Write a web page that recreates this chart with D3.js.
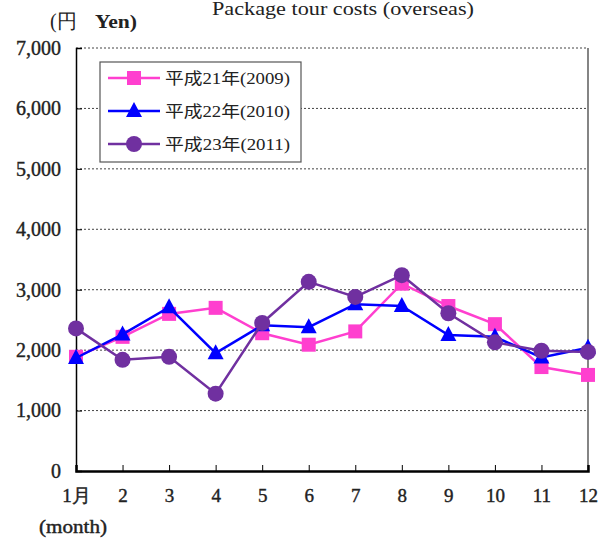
<!DOCTYPE html>
<html><head><meta charset="utf-8">
<script src="https://cdn.jsdelivr.net/npm/d3@7"></script>
<style>body{margin:0;background:#fff}</style>
</head><body>
<svg id="c" width="603" height="538"></svg>
<script>
const months = ["1月","2","3","4","5","6","7","8","9","10","11","12"];
const s2009 = [1890,2220,2600,2700,2280,2090,2310,3100,2730,2430,1720,1590];
const s2010 = [1870,2260,2710,1950,2410,2380,2760,2730,2250,2220,1880,2040];
const s2011 = [2360,1840,1890,1280,2450,3130,2880,3240,2610,2130,1990,1970];
const seriesNames = ["平成21年(2009)","平成22年(2010)","平成23年(2011)"];
const yTicks = [0,1000,2000,3000,4000,5000,6000,7000];

const series = [
  {name:seriesNames[0], values:s2009, color:"#ff3fcf", shape:"square"},
  {name:seriesNames[1], values:s2010, color:"#0000ff", shape:"triangle"},
  {name:seriesNames[2], values:s2011, color:"#7030a0", shape:"circle"}
];

const svg = d3.select("#c");
const L=76, R=588, T=48, B=471;
const x = d3.scalePoint().domain(months).range([L,R]);
const y = d3.scaleLinear().domain([0,7000]).range([B,T]);
const serif = "'Liberation Serif','DejaVu Serif',serif";
const txt = "#222";

// title
svg.append("text").attr("x",343).attr("y",15).attr("text-anchor","middle")
  .attr("font-family",serif).attr("font-size",18).attr("fill",txt)
  .attr("textLength",262).attr("lengthAdjust","spacingAndGlyphs")
  .text("Package tour costs (overseas)");
// unit
svg.append("text").attr("x",50).attr("y",28)
  .attr("font-family",serif).attr("font-size",20).attr("fill",txt)
  .text("(円");
svg.append("text").attr("x",95).attr("y",28)
  .attr("font-family",serif).attr("font-size",19).attr("font-weight","bold").attr("fill",txt)
  .attr("textLength",42).attr("lengthAdjust","spacingAndGlyphs")
  .text("Yen)");

// gridlines
svg.append("g").selectAll("line").data(yTicks.filter(d=>d>0)).join("line")
  .attr("x1",L).attr("x2",R).attr("y1",d=>y(d)).attr("y2",d=>y(d))
  .attr("stroke","#444").attr("stroke-width",1).attr("stroke-dasharray","2,2");

// right border
svg.append("line").attr("x1",R).attr("x2",R).attr("y1",T).attr("y2",B).attr("stroke","#333").attr("stroke-width",1.2);

// y axis
const ya = svg.append("g").attr("transform",`translate(${L},0)`)
  .call(d3.axisLeft(y).tickValues(yTicks).tickSize(-6).tickPadding(15).tickFormat(d3.format(",")));
ya.select(".domain").attr("stroke","#000").attr("stroke-width",1.5);
ya.selectAll(".tick line").attr("stroke","#000");
ya.selectAll("text").attr("font-family",serif).attr("font-size",20).attr("fill",txt)
  .attr("stroke",txt).attr("stroke-width",0.4);

// x axis
const xa = svg.append("g").attr("transform",`translate(0,${B})`)
  .call(d3.axisBottom(x).tickSize(-6).tickPadding(18));
xa.select(".domain").attr("stroke","#000").attr("stroke-width",2.5);
xa.selectAll(".tick line").attr("stroke","#000");
xa.selectAll("text").attr("font-family",serif).attr("font-size",19).attr("fill",txt)
  .attr("stroke",txt).attr("stroke-width",0.4);

svg.append("text").attr("x",39).attr("y",533)
  .attr("font-family",serif).attr("font-size",18).attr("fill",txt)
  .attr("stroke",txt).attr("stroke-width",0.4)
  .attr("textLength",68).attr("lengthAdjust","spacingAndGlyphs")
  .text("(month)");

const line = d3.line().x((d,i)=>x(months[i])).y(d=>y(d));

function marker(g, shape, color, cx, cy){
  if(shape==="square"){
    g.append("rect").attr("x",cx-7).attr("y",cy-7).attr("width",14).attr("height",14).attr("fill",color);
  } else if(shape==="triangle"){
    g.append("path").attr("d",`M${cx},${cy-9}L${cx+8},${cy+6}L${cx-8},${cy+6}Z`).attr("fill",color);
  } else {
    g.append("circle").attr("cx",cx).attr("cy",cy).attr("r",8).attr("fill",color);
  }
}

series.forEach(s=>{
  const g = svg.append("g");
  g.append("path").datum(s.values).attr("d",line).attr("fill","none")
    .attr("stroke",s.color).attr("stroke-width",2.5);
  s.values.forEach((v,i)=>marker(g,s.shape,s.color,x(months[i]),y(v)));
});

// legend
const lg = svg.append("g");
lg.append("rect").attr("x",100).attr("y",62).attr("width",201).attr("height",100)
  .attr("fill","#fff").attr("stroke","#555").attr("stroke-width",1.2);
series.forEach((s,i)=>{
  const cy = 78 + i*33;
  lg.append("line").attr("x1",108).attr("x2",160).attr("y1",cy).attr("y2",cy)
    .attr("stroke",s.color).attr("stroke-width",2.5);
  marker(lg,s.shape,s.color,134,cy);
  lg.append("text").attr("x",165).attr("y",cy+6)
    .attr("font-family","'Liberation Serif','Noto Sans CJK JP',serif").attr("font-size",16).attr("fill",txt)
    .attr("textLength",125).attr("lengthAdjust","spacingAndGlyphs")
    .text(s.name);
});
</script>
</body></html>
